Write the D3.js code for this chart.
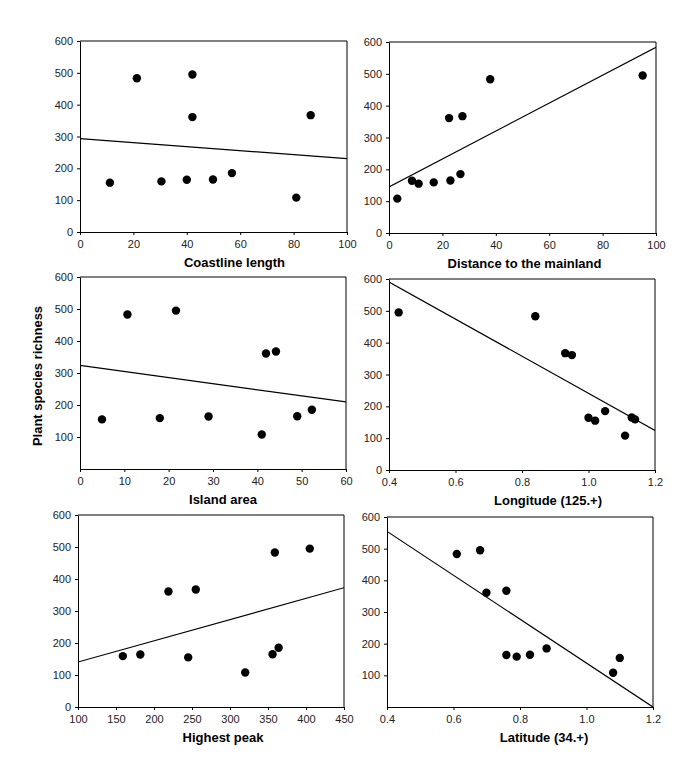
<!DOCTYPE html>
<html>
<head>
<meta charset="utf-8">
<script src="https://cdn.jsdelivr.net/npm/d3@7"></script>
<style>
  body { margin: 0; background: #fff; }
  svg { font-family: "Liberation Sans", Arial, sans-serif; }
</style>
</head>
<body>
<div id="chart"></div>
<script>
// plant species richness per island (same order in every predictor array)
var richness = [483, 495, 361, 367, 155, 159, 164, 165, 185, 108];

var coastline = [21.3, 42.1, 42.1, 86.4, 11.2, 30.5, 40.0, 49.8, 56.9, 81.0];
var distance = [37.9, 95.0, 22.5, 27.5, 11.1, 16.75, 8.6, 23.0, 26.75, 3.1];
var area = [10.7, 21.65, 41.95, 44.2, 4.96, 18.0, 29.0, 49.0, 52.3, 41.0];
var longitude = [0.84, 0.429, 0.95, 0.93, 1.02, 1.14, 1.0, 1.13, 1.05, 1.11];
var peak = [359, 405, 219, 255, 245, 159, 182, 356, 364, 320];
var latitude = [0.61, 0.68, 0.699, 0.759, 1.10, 0.79, 0.759, 0.83, 0.88, 1.08];

var titles = ["Coastline length", "Distance to the mainland", "Island area",
              "Longitude (125.+)", "Highest peak", "Latitude (34.+)"];
var xDomains = [[0, 100], [0, 100], [0, 60], [0.4, 1.2], [100, 450], [0.4, 1.2]];
var xTicks = [
    [0, 20, 40, 60, 80, 100],
    [0, 20, 40, 60, 80, 100],
    [0, 10, 20, 30, 40, 50, 60],
    [0.4, 0.6, 0.8, 1.0, 1.2],
    [100, 150, 200, 250, 300, 350, 400, 450],
    [0.4, 0.6, 0.8, 1.0, 1.2]
];
var yTicksFull = [0, 100, 200, 300, 400, 500, 600];
var yTicksNoZero = [100, 200, 300, 400, 500, 600];
var xSeries = [coastline, distance, area, longitude, peak, latitude];

var width = 694;
var height = 774;

// plot boxes [left, top, right, bottom] and title shift
var boxes = [
    [80, 41, 347, 232],
    [389, 42, 656, 233],
    [80, 277, 346, 469],
    [389, 279, 655, 470],
    [78, 515, 344, 707],
    [387, 517, 653, 707]
];
var titleShift = [21, 2, 10, 26, 12, 24];
var showZero = [true, true, false, true, true, false];
var xFormat = [d3.format("d"), d3.format("d"), d3.format("d"),
               d3.format(".1f"), d3.format("d"), d3.format(".1f")];

var svg = d3.select("#chart")
    .append("svg")
    .attr("width", width)
    .attr("height", height);

function fit(xs, ys) {
    var mx = d3.mean(xs), my = d3.mean(ys);
    var sxy = 0, sxx = 0;
    xs.forEach(function(x, i) {
        sxy += (x - mx) * (ys[i] - my);
        sxx += (x - mx) * (x - mx);
    });
    var b = sxy / sxx;
    return { slope: b, icpt: my - b * mx };
}

xSeries.forEach(function(xs, p) {
    var b = boxes[p];
    var x = d3.scaleLinear().domain(xDomains[p]).range([b[0], b[2]]);
    var y = d3.scaleLinear().domain([0, 600]).range([b[3], b[1]]);

    var g = svg.append("g");

    g.append("clipPath")
        .attr("id", "clip" + p)
        .append("rect")
        .attr("x", b[0]).attr("y", b[1])
        .attr("width", b[2] - b[0]).attr("height", b[3] - b[1]);

    // frame top/right
    g.append("path")
        .attr("d", "M" + b[0] + "," + b[1] + "H" + b[2] + "V" + b[3])
        .attr("fill", "none")
        .attr("stroke", "#000")
        .attr("stroke-width", 1);

    var xAxis = g.append("g")
        .attr("transform", "translate(0," + b[3] + ")")
        .call(d3.axisBottom(x).tickValues(xTicks[p]).tickFormat(xFormat[p])
            .tickSizeInner(3).tickSizeOuter(0).tickPadding(5));

    var yAxis = g.append("g")
        .attr("transform", "translate(" + b[0] + ",0)")
        .call(d3.axisLeft(y).tickValues(showZero[p] ? yTicksFull : yTicksNoZero)
            .tickSizeInner(3).tickSizeOuter(0).tickPadding(4));

    [xAxis, yAxis].forEach(function(ax) {
        ax.selectAll("path, line").attr("stroke", "#000");
        ax.selectAll("text")
            .attr("font-size", 11)
            .attr("fill", "#222")
            .attr("font-family", "Liberation Sans, Arial, sans-serif");
    });

    // regression line
    var r = fit(xs, richness);
    var dom = xDomains[p];
    g.append("line")
        .attr("clip-path", "url(#clip" + p + ")")
        .attr("x1", x(dom[0])).attr("y1", y(r.icpt + r.slope * dom[0]))
        .attr("x2", x(dom[1])).attr("y2", y(r.icpt + r.slope * dom[1]))
        .attr("stroke", "#000")
        .attr("stroke-width", 1.2);

    g.selectAll("circle")
        .data(xs)
        .enter()
        .append("circle")
        .attr("cx", function(d) { return x(d); })
        .attr("cy", function(d, i) { return y(richness[i]); })
        .attr("r", 4.2)
        .attr("fill", "#000");

    g.append("text")
        .attr("x", (b[0] + b[2]) / 2 + titleShift[p])
        .attr("y", b[3] + 35)
        .attr("text-anchor", "middle")
        .attr("font-size", 13)
        .attr("font-weight", "bold")
        .text(titles[p]);
});

svg.append("text")
    .attr("transform", "translate(42,376) rotate(-90)")
    .attr("text-anchor", "middle")
    .attr("font-size", 13)
    .attr("font-weight", "bold")
    .text("Plant species richness");
</script>
</body>
</html>
